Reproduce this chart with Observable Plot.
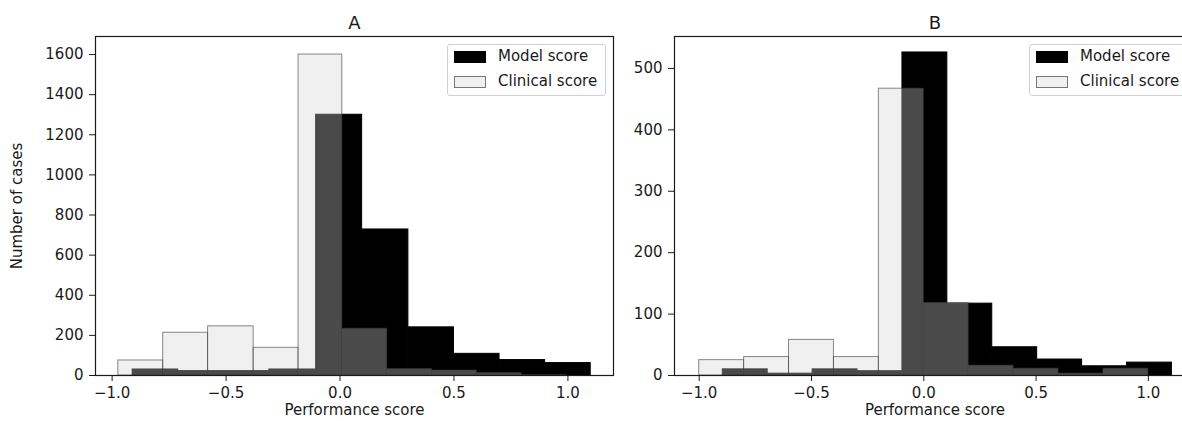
<!DOCTYPE html>
<html>
<head>
<meta charset="utf-8">
<script src="https://cdn.jsdelivr.net/npm/d3@7"></script>
<script src="https://cdn.jsdelivr.net/npm/@observablehq/plot@0.6"></script>
<style>
  html, body { margin: 0; padding: 0; background: #fff; overflow: hidden; }
  #wrap { position: relative; width: 1182px; height: 421px; overflow: hidden; background: #fff; font-family: "DejaVu Sans", sans-serif; }
  .panel { position: absolute; top: 0; }
  .legend { position: absolute; border: 1px solid #d0d0d0; border-radius: 3px; background: rgba(255,255,255,0.85); box-sizing: border-box; font-size: 15px; color: #1a1a1a; }
  .legend .row { position: absolute; left: 6px; height: 12px; }
  .legend .patch { position: absolute; left: 0; top: 0; width: 32px; height: 12px; box-sizing: border-box; }
  .legend .lab { position: absolute; left: 44px; top: -4px; white-space: nowrap; line-height: 19px; }
</style>
</head>
<body>
<div id="wrap"></div>
<script>
// ---------- data ----------
const seriesNames = ["Model score", "Clinical score"];

// Panel A
const modelEdgesA = [-0.91, -0.71, -0.51, -0.31, -0.105, 0.097, 0.30, 0.50, 0.70, 0.90, 1.10];
const modelCountsA = [30, 22, 22, 30, 1300, 728, 240, 108, 77, 62];
const clinicalEdgesA = [-0.973, -0.776, -0.579, -0.379, -0.182, 0.010, 0.207, 0.404, 0.60, 0.797, 0.993];
const clinicalCountsA = [75, 213, 245, 138, 1600, 233, 32, 25, 12, 2];

// Panel B
const modelEdgesB = [-0.895, -0.695, -0.495, -0.295, -0.095, 0.105, 0.305, 0.505, 0.705, 0.905, 1.105];
const modelCountsB = [10, 3, 10, 7, 526, 117, 46, 26, 15, 21];
const clinicalEdgesB = [-1.0, -0.8, -0.6, -0.4, -0.2, 0.0, 0.2, 0.4, 0.6, 0.8, 1.0];
const clinicalCountsB = [25, 30, 58, 30, 467, 118, 16, 11, 3, 11];

// ticks
const xTicks = [-1.0, -0.5, 0.0, 0.5, 1.0];
const yTicksA = [0, 200, 400, 600, 800, 1000, 1200, 1400, 1600];
const yTicksB = [0, 100, 200, 300, 400, 500];

const panelTitles = ["A", "B"];
const xLabel = "Performance score";
const yLabel = "Number of cases";

// ---------- build bins ----------
function bins(edges, counts) {
  return counts.map((c, i) => ({x1: edges[i], x2: edges[i + 1], count: c}));
}

const FONT = "DejaVu Sans, sans-serif";
const INK = "#1a1a1a";

function panel({title, model, clinical, xDomain, yDomain, yTicks, showYLabel, width, marginLeft, marginRight}) {
  return Plot.plot({
    width, height: 421,
    marginLeft, marginRight, marginTop: 36, marginBottom: 46,
    style: {fontFamily: FONT, fontSize: "15px", color: INK, background: "transparent", overflow: "visible"},
    x: {domain: xDomain},
    y: {domain: yDomain},
    marks: [
      Plot.rectY(model, {x1: "x1", x2: "x2", y: "count", fill: "black", stroke: "black", strokeWidth: 1}),
      Plot.rectY(clinical, {x1: "x1", x2: "x2", y: "count", fill: "#d3d3d3", fillOpacity: 0.35, stroke: "#3a3a3a", strokeOpacity: 0.6, strokeWidth: 1}),
      Plot.frame({stroke: INK, strokeWidth: 1.2}),
      Plot.axisX({ticks: xTicks, tickFormat: d3.format(".1f"), tickSize: 6, tickPadding: 6, fontSize: 15, stroke: INK,
        label: xLabel, labelAnchor: "center", labelOffset: 39, labelArrow: "none"}),
      Plot.axisY({ticks: yTicks, tickFormat: d3.format("d"), tickSize: 6, tickPadding: 6, fontSize: 15, stroke: INK,
        label: showYLabel ? yLabel : null, labelAnchor: "center", labelOffset: 84, labelArrow: "none"}),
      Plot.text([title], {text: d => d, frameAnchor: "top", dy: -13, fontSize: 18, fill: INK, lineAnchor: "middle"})
    ]
  });
}

const wrap = document.getElementById("wrap");

const pA = panel({
  title: panelTitles[0],
  model: bins(modelEdgesA, modelCountsA),
  clinical: bins(clinicalEdgesA, clinicalCountsA),
  xDomain: [-1.073, 1.2], yDomain: [0, 1690], yTicks: yTicksA, showYLabel: true,
  width: 640, marginLeft: 95, marginRight: 27
});
pA.classList.add("panel"); pA.style.left = "0px";
wrap.appendChild(pA);

const pB = panel({
  title: panelTitles[1],
  model: bins(modelEdgesB, modelCountsB),
  clinical: bins(clinicalEdgesB, clinicalCountsB),
  xDomain: [-1.11, 1.21], yDomain: [0, 552], yTicks: yTicksB, showYLabel: false,
  width: 591, marginLeft: 60, marginRight: 10
});
pB.classList.add("panel"); pB.style.left = "614px";
wrap.appendChild(pB);

// ---------- legends ----------
function legend(left) {
  const box = document.createElement("div");
  box.className = "legend";
  Object.assign(box.style, {left: left + "px", top: "44px", width: "159px", height: "52px"});
  const styles = [
    {background: "#000", border: "1px solid #000"},
    {background: "#f0f0f0", border: "1px solid #777"}
  ];
  seriesNames.forEach((name, i) => {
    const row = document.createElement("div");
    row.className = "row";
    row.style.top = (i === 0 ? 6 : 31) + "px";
    const patch = document.createElement("div");
    patch.className = "patch";
    Object.assign(patch.style, styles[i]);
    const lab = document.createElement("div");
    lab.className = "lab";
    lab.textContent = name;
    row.appendChild(patch); row.appendChild(lab);
    box.appendChild(row);
  });
  wrap.appendChild(box);
}
legend(447);
legend(1029);
</script>
</body>
</html>
